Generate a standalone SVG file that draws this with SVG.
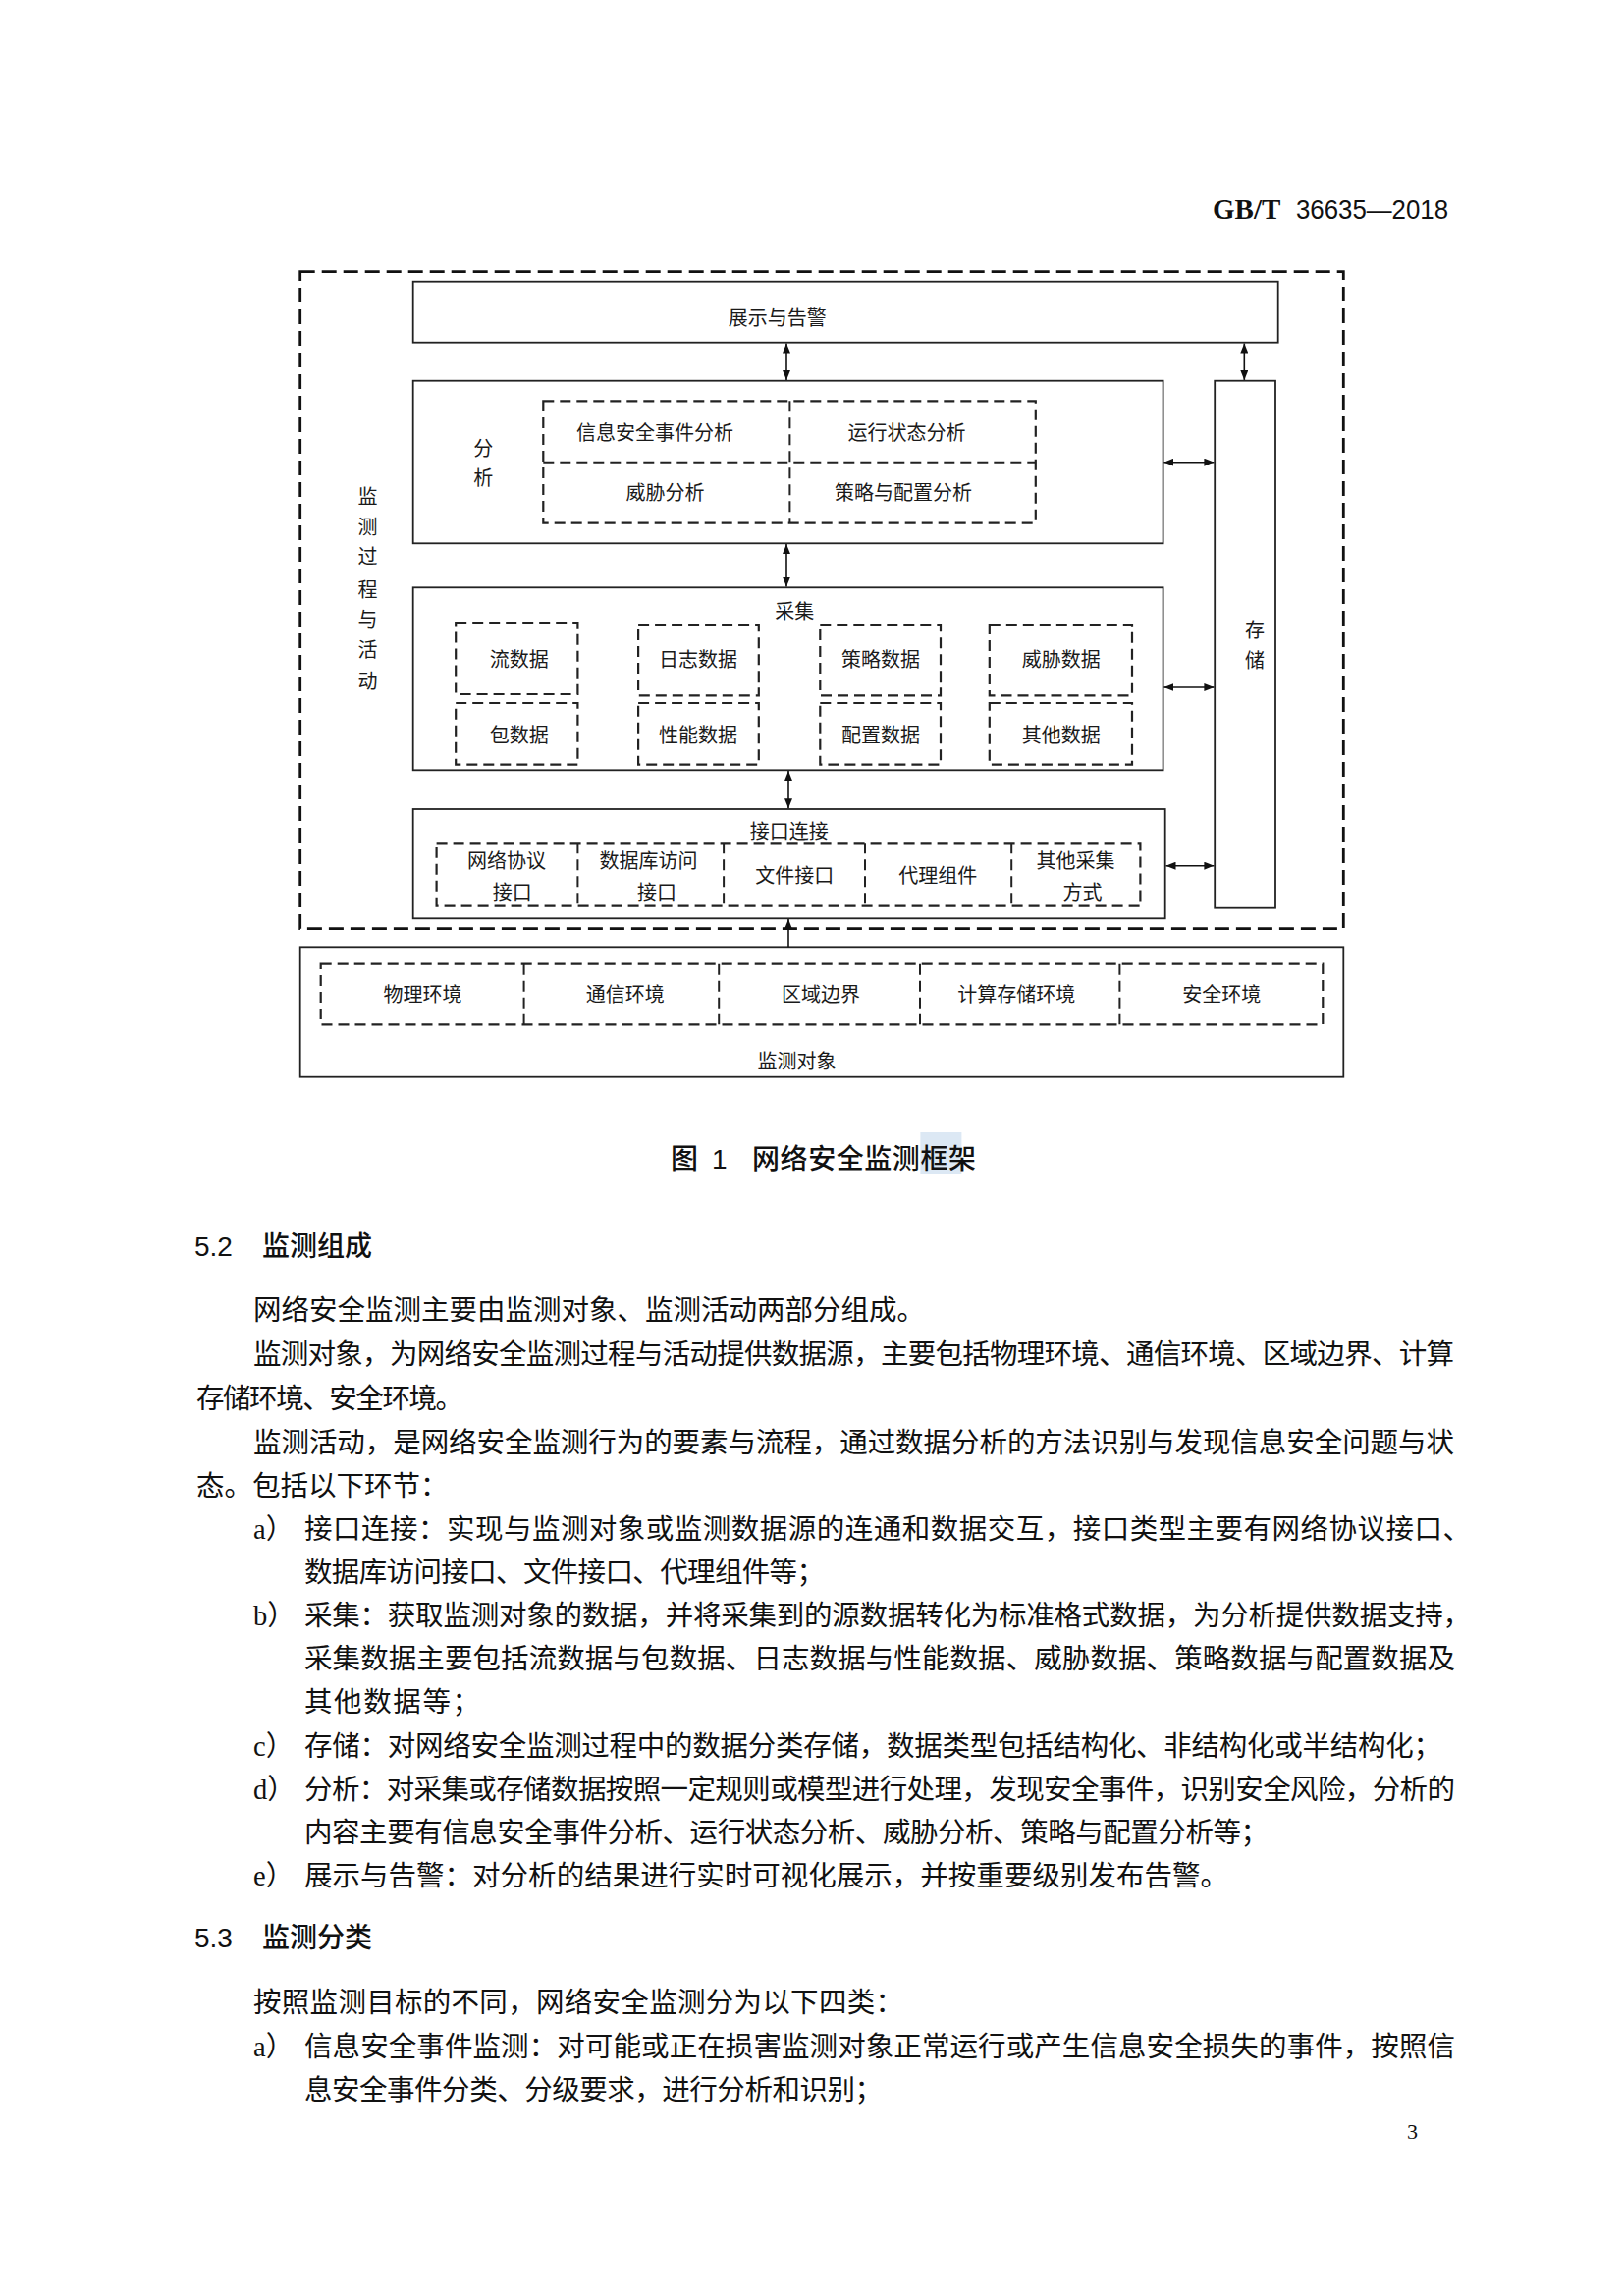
<svg xmlns="http://www.w3.org/2000/svg" width="1653" height="2338" viewBox="0 0 1653 2338">
<style>
.bg{fill:#ffffff}
.box{fill:none;stroke:#222;stroke-width:1.8}
.outer{fill:none;stroke:#111;stroke-width:2.8;stroke-dasharray:15 7}
.inner{fill:none;stroke:#222;stroke-width:2.2;stroke-dasharray:11 6}
.div{stroke:#222;stroke-width:2;stroke-dasharray:11 6}
.lbl{font-family:"Noto Sans CJK SC","Noto Sans",sans-serif;font-size:20px;fill:#1a1a1a;text-anchor:middle}
.body{font-family:"Noto Sans CJK SC","Noto Sans",sans-serif;font-size:28.5px;fill:#111}
.head{font-family:"Noto Sans CJK SC","Noto Sans",sans-serif;font-size:28px;font-weight:500;fill:#111}
.num{font-family:"Liberation Sans","Noto Sans CJK SC",sans-serif;font-size:28px;fill:#111}
.blt{font-family:"Liberation Serif","Noto Sans CJK SC",serif;font-size:28.5px;fill:#111}
.conn line{stroke:#111;stroke-width:1.6}
</style>
<defs>
<marker id="ah" viewBox="0 0 10 8" refX="10" refY="4" markerWidth="10" markerHeight="8" markerUnits="userSpaceOnUse" orient="auto-start-reverse">
<path d="M0,0 L10,4 L0,8 z" fill="#111"/>
</marker>
</defs>
<rect class="bg" x="0" y="0" width="1653" height="2338"/>

<text x="1235" y="223" font-family="Liberation Serif,serif" font-size="29" font-weight="bold" fill="#111">GB/T</text>
<text x="1320" y="223" font-family="Liberation Sans,sans-serif" font-size="28" fill="#111" textLength="155" lengthAdjust="spacingAndGlyphs">36635—2018</text>

<g id="process">
<rect class="outer" x="305.7" y="276.7" width="1062.6" height="669"/>
<text class="lbl" x="374.4" y="512.6">监</text>
<text class="lbl" x="374.4" y="544.3">测</text>
<text class="lbl" x="374.4" y="574.3">过</text>
<text class="lbl" x="374.4" y="607.6">程</text>
<text class="lbl" x="374.4" y="637.6">与</text>
<text class="lbl" x="374.4" y="669.3">活</text>
<text class="lbl" x="374.4" y="700.9">动</text>
</g>

<g id="display">
<rect class="box" x="420.7" y="286.7" width="881" height="62"/>
<text class="lbl" x="791.8" y="330.6">展示与告警</text>
</g>

<g id="analysis">
<rect class="box" x="420.7" y="387.7" width="763.9" height="165.6"/>
<text class="lbl" x="492.3" y="464.3">分</text>
<text class="lbl" x="492.3" y="494.3">析</text>
<rect class="inner" x="553.3" y="408.3" width="501.5" height="124.4"/>
<line class="div" x1="553.3" y1="470.7" x2="1054.8" y2="470.7"/>
<line class="div" x1="804.4" y1="408.3" x2="804.4" y2="532.7"/>
<text class="lbl" x="667" y="447.6">信息安全事件分析</text>
<text class="lbl" x="923.6" y="447.6">运行状态分析</text>
<text class="lbl" x="677.5" y="509.3">威胁分析</text>
<text class="lbl" x="920.1" y="509.3">策略与配置分析</text>
</g>

<g id="storage">
<rect class="box" x="1237.2" y="387.7" width="61.8" height="537"/>
<text class="lbl" x="1277.9" y="649.3">存</text>
<text class="lbl" x="1277.9" y="680.3">储</text>
</g>

<g id="collection">
<rect class="box" x="420.7" y="598.3" width="763.9" height="186"/>
<text class="lbl" x="809.3" y="630.3">采集</text>
<rect class="inner" x="464.2" y="634" width="124.2" height="73"/>
<rect class="inner" x="464.2" y="716" width="124.2" height="62.7"/>
<rect class="inner" x="650.1" y="636" width="122.7" height="72.3"/>
<rect class="inner" x="650.1" y="716" width="122.7" height="62.7"/>
<rect class="inner" x="835.3" y="636" width="122.7" height="72.3"/>
<rect class="inner" x="835.3" y="716" width="122.7" height="62.7"/>
<rect class="inner" x="1007.8" y="636" width="145.2" height="72.3"/>
<rect class="inner" x="1007.8" y="716" width="145.2" height="62.7"/>
<text class="lbl" x="528.7" y="679.3">流数据</text>
<text class="lbl" x="528.7" y="755.9">包数据</text>
<text class="lbl" x="711" y="679.3">日志数据</text>
<text class="lbl" x="711" y="755.9">性能数据</text>
<text class="lbl" x="897" y="679.3">策略数据</text>
<text class="lbl" x="897" y="755.9">配置数据</text>
<text class="lbl" x="1080.8" y="679.3">威胁数据</text>
<text class="lbl" x="1080.8" y="755.9">其他数据</text>
</g>

<g id="interface">
<rect class="box" x="420.7" y="824" width="766" height="111.3"/>
<text class="lbl" x="803.7" y="854.3">接口连接</text>
<rect class="inner" x="444.6" y="858.3" width="716.8" height="64.4"/>
<line class="div" x1="588.4" y1="858.3" x2="588.4" y2="922.7"/>
<line class="div" x1="737.1" y1="858.3" x2="737.1" y2="922.7"/>
<line class="div" x1="881" y1="858.3" x2="881" y2="922.7"/>
<line class="div" x1="1030.2" y1="858.3" x2="1030.2" y2="922.7"/>
<text class="lbl" x="516.1" y="883.6">网络协议</text>
<text class="lbl" x="521.7" y="915.9">接口</text>
<text class="lbl" x="660.6" y="883.6">数据库访问</text>
<text class="lbl" x="669" y="915.9">接口</text>
<text class="lbl" x="809.3" y="899.3">文件接口</text>
<text class="lbl" x="955.2" y="899.3">代理组件</text>
<text class="lbl" x="1095.5" y="883.6">其他采集</text>
<text class="lbl" x="1102.5" y="915.9">方式</text>
</g>

<g id="object">
<rect class="box" x="305.7" y="964.3" width="1062.6" height="132.4"/>
<rect class="inner" x="326.7" y="981.7" width="1020.6" height="61.6"/>
<line class="div" x1="533.6" y1="981.7" x2="533.6" y2="1043.3"/>
<line class="div" x1="732.2" y1="981.7" x2="732.2" y2="1043.3"/>
<line class="div" x1="937" y1="981.7" x2="937" y2="1043.3"/>
<line class="div" x1="1140.4" y1="981.7" x2="1140.4" y2="1043.3"/>
<text class="lbl" x="430.5" y="1020.3">物理环境</text>
<text class="lbl" x="636.8" y="1020.3">通信环境</text>
<text class="lbl" x="836" y="1020.3">区域边界</text>
<text class="lbl" x="1035.2" y="1020.3">计算存储环境</text>
<text class="lbl" x="1244.2" y="1020.3">安全环境</text>
<text class="lbl" x="811.4" y="1087.6">监测对象</text>
</g>

<g id="connectors" class="conn">
<line x1="801" y1="349.5" x2="801" y2="386.9" marker-start="url(#ah)" marker-end="url(#ah)"/>
<line x1="1267.3" y1="349.5" x2="1267.3" y2="386.9" marker-start="url(#ah)" marker-end="url(#ah)"/>
<line x1="801" y1="554.1" x2="801" y2="597.5" marker-start="url(#ah)" marker-end="url(#ah)"/>
<line x1="803" y1="785.1" x2="803" y2="823.2" marker-start="url(#ah)" marker-end="url(#ah)"/>
<line x1="803" y1="964.3" x2="803" y2="936.1" marker-end="url(#ah)"/>
<line x1="1185.4" y1="470.7" x2="1236.4" y2="470.7" marker-start="url(#ah)" marker-end="url(#ah)"/>
<line x1="1185.4" y1="700" x2="1236.4" y2="700" marker-start="url(#ah)" marker-end="url(#ah)"/>
<line x1="1187.5" y1="881.7" x2="1236.4" y2="881.7" marker-start="url(#ah)" marker-end="url(#ah)"/>
</g>

<rect x="937.4" y="1153" width="42" height="42" fill="#dce8f4"/>
<text x="683" y="1190" class="head">图</text>
<text x="725" y="1190" class="num">1</text>
<text x="766" y="1190" class="head" textLength="228">网络安全监测框架</text>

<text x="198" y="1279" class="num">5.2</text>
<text x="267" y="1279" class="head">监测组成</text>
<text x="258" y="1344" class="body">网络安全监测主要由监测对象、监测活动两部分组成。</text>
<text x="258" y="1389" class="body" textLength="1223">监测对象，为网络安全监测过程与活动提供数据源，主要包括物理环境、通信环境、区域边界、计算</text>
<text x="200" y="1434" class="body" textLength="272">存储环境、安全环境。</text>
<text x="258" y="1479" class="body" textLength="1223">监测活动，是网络安全监测行为的要素与流程，通过数据分析的方法识别与发现信息安全问题与状</text>
<text x="200" y="1523" class="body">态。包括以下环节：</text>
<text x="258" y="1567" class="blt">a）</text>
<text x="310" y="1567" class="body" textLength="1188">接口连接：实现与监测对象或监测数据源的连通和数据交互，接口类型主要有网络协议接口、</text>
<text x="310" y="1611" class="body" textLength="530">数据库访问接口、文件接口、代理组件等；</text>
<text x="258" y="1655" class="blt">b）</text>
<text x="310" y="1655" class="body" textLength="1188">采集：获取监测对象的数据，并将采集到的源数据转化为标准格式数据，为分析提供数据支持，</text>
<text x="310" y="1699" class="body" textLength="1172">采集数据主要包括流数据与包数据、日志数据与性能数据、威胁数据、策略数据与配置数据及</text>
<text x="310" y="1743" class="body" textLength="179">其他数据等；</text>
<text x="258" y="1788" class="blt">c）</text>
<text x="310" y="1788" class="body" textLength="1158">存储：对网络安全监测过程中的数据分类存储，数据类型包括结构化、非结构化或半结构化；</text>
<text x="258" y="1832" class="blt">d）</text>
<text x="310" y="1832" class="body" textLength="1172">分析：对采集或存储数据按照一定规则或模型进行处理，发现安全事件，识别安全风险，分析的</text>
<text x="310" y="1876" class="body" textLength="982">内容主要有信息安全事件分析、运行状态分析、威胁分析、策略与配置分析等；</text>
<text x="258" y="1920" class="blt">e）</text>
<text x="310" y="1920" class="body" textLength="941">展示与告警：对分析的结果进行实时可视化展示，并按重要级别发布告警。</text>
<text x="198" y="1983" class="num">5.3</text>
<text x="267" y="1983" class="head">监测分类</text>
<text x="258" y="2049" class="body" textLength="662">按照监测目标的不同，网络安全监测分为以下四类：</text>
<text x="258" y="2094" class="blt">a）</text>
<text x="310" y="2094" class="body" textLength="1172">信息安全事件监测：对可能或正在损害监测对象正常运行或产生信息安全损失的事件，按照信</text>
<text x="310" y="2138" class="body" textLength="589">息安全事件分类、分级要求，进行分析和识别；</text>
<text x="1433" y="2178" font-family="Liberation Serif,serif" font-size="22" fill="#111">3</text>
</svg>
